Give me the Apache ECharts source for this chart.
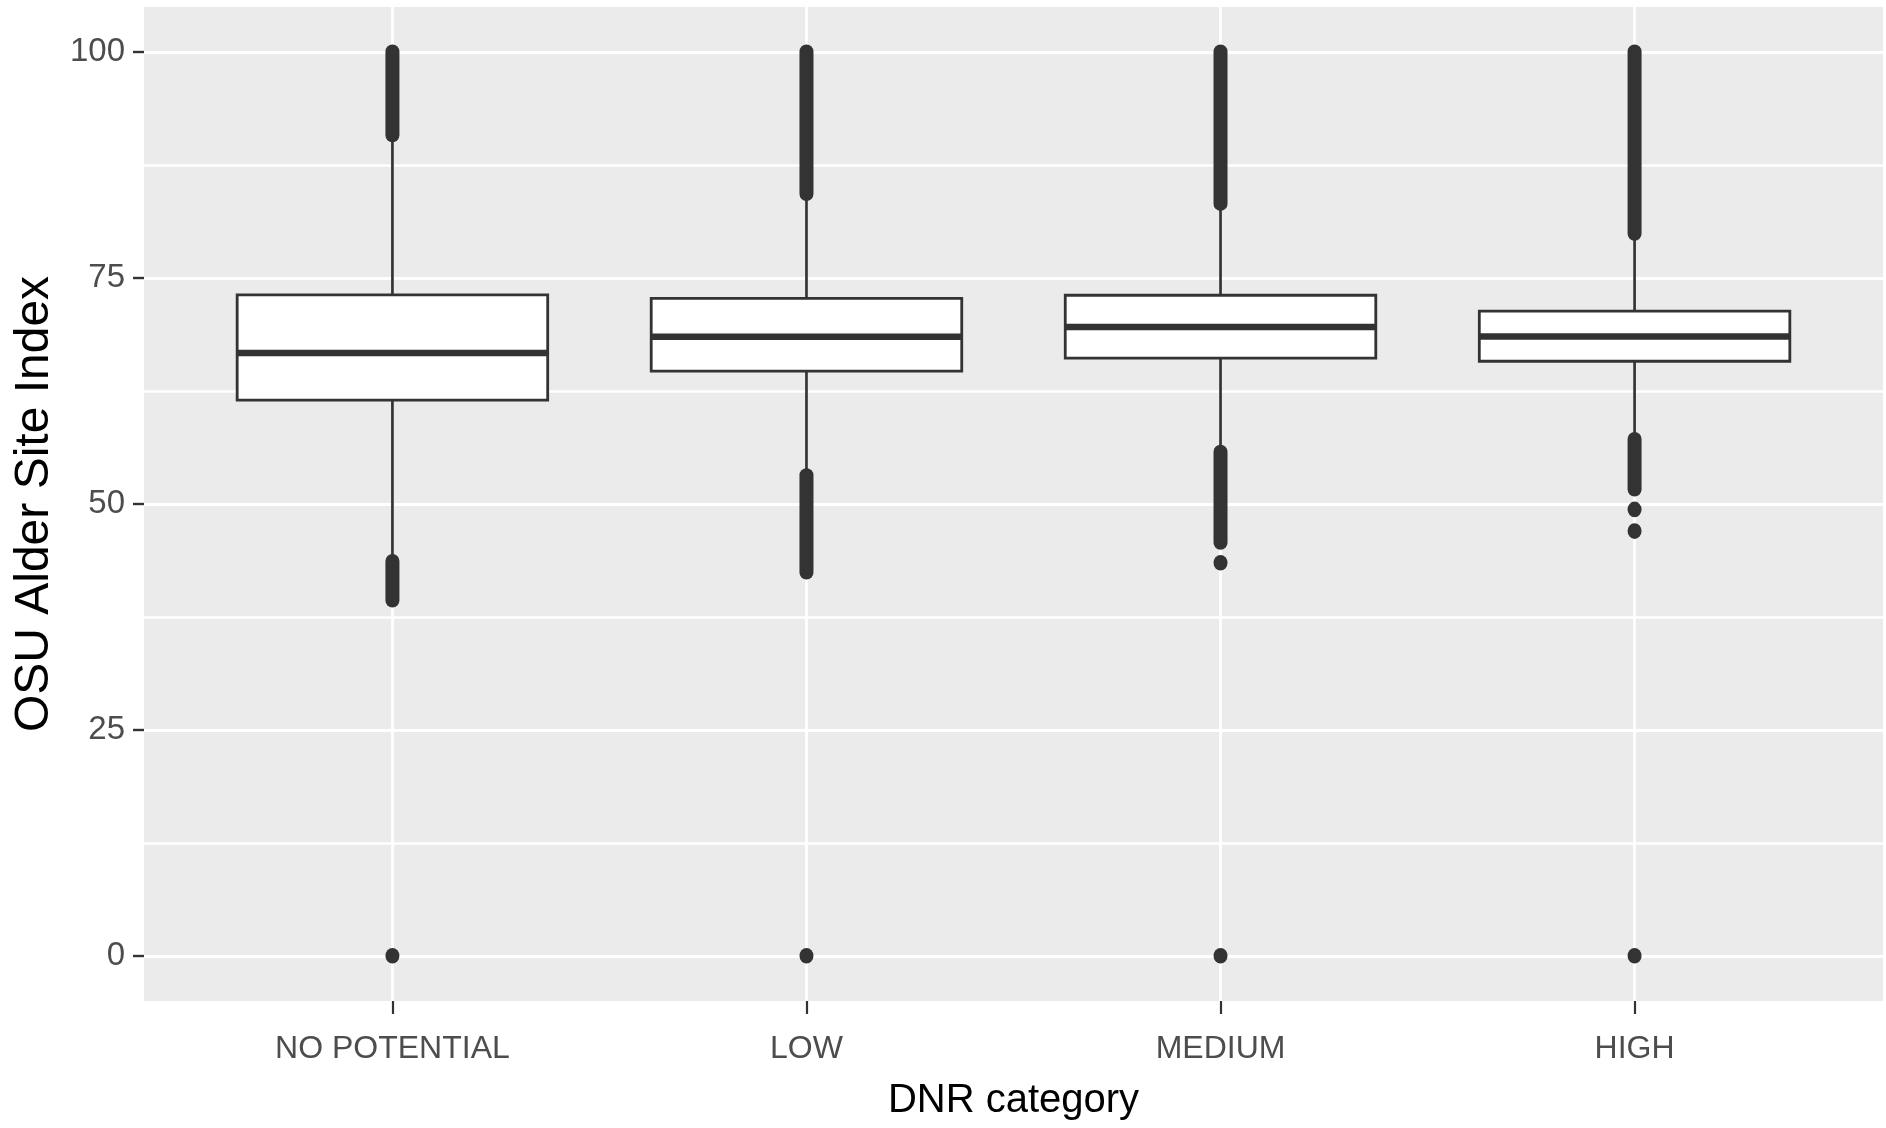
<!DOCTYPE html>
<html>
<head>
<meta charset="utf-8">
<script src="https://cdn.jsdelivr.net/npm/echarts@6/dist/echarts.min.js"></script>
<style>
  html, body { margin: 0; padding: 0; background: #fff; }
  #chart { width: 1886px; height: 1128px; }
</style>
</head>
<body>
<div id="chart"></div>
<script>
// categories on the x axis
const categories = ["NO POTENTIAL", "LOW", "MEDIUM", "HIGH"];

// box statistics
const whiskerLow = [44.2, 53.6, 56.0, 57.6];
const q1 = [61.5, 64.7, 66.15, 65.8];
const median = [66.7, 68.5, 69.6, 68.55];
const q3 = [73.15, 72.75, 73.1, 71.35];
const whiskerHigh = [90.6, 84.2, 83.2, 79.8];

// dense runs of outliers (they merge into one solid bar)
const upperRunFrom = [90.9, 84.4, 83.3, 80.0];
const upperRunTo = [100, 100, 100, 100];
const lowerRunFrom = [39.4, 42.5, 45.8, 51.7];
const lowerRunTo = [43.6, 53.1, 55.7, 57.1];

// single outliers
const extraOutliers = [[0], [0], [43.5, 0], [49.4, 47.0, 0]];

// tick labels
const yTicks = [0, 25, 50, 75, 100];
const yMinorTicks = [12.5, 37.5, 62.5, 87.5];
const xTicks = [1, 2, 3, 4];

const INK = "#333333";
const sans = "'Liberation Sans', Arial, sans-serif";

const boxData = categories.map((c, i) => [i + 1, whiskerLow[i], q1[i], median[i], q3[i], whiskerHigh[i]]);
const runData = [];
categories.forEach((c, i) => {
  runData.push([i + 1, upperRunFrom[i], upperRunTo[i]]);
  runData.push([i + 1, lowerRunFrom[i], lowerRunTo[i]]);
});
const pointData = [];
extraOutliers.forEach((vals, i) => vals.forEach(v => pointData.push([i + 1, v])));

const chart = echarts.init(document.getElementById("chart"));

const option = {
  animation: false,
  backgroundColor: "#ffffff",
  grid: {
    left: 144,
    right: 3,
    top: 7,
    bottom: 127,
    show: true,
    backgroundColor: "#EBEBEB",
    borderWidth: 0,
    outerBoundsMode: "none"
  },
  xAxis: {
    type: "value",
    min: 0.4,
    max: 4.6,
    name: "DNR category",
    nameLocation: "middle",
    nameGap: 80,
    nameTextStyle: { fontFamily: sans, fontSize: 40, color: "#000" },
    axisLine: { show: false, onZero: false },
    axisTick: { show: true, length: 13, customValues: xTicks, lineStyle: { color: INK, width: 2.2 } },
    axisLabel: {
      customValues: xTicks,
      margin: 32,
      fontFamily: sans,
      fontSize: 32,
      color: "#4D4D4D",
      formatter: v => categories[Math.round(v) - 1]
    },
    splitLine: { show: true, lineStyle: { color: "#ffffff", width: 2.8 } }
  },
  yAxis: [
    {
      type: "value",
      min: -5,
      max: 105,
      name: "OSU Alder Site Index",
      nameLocation: "middle",
      nameGap: 58,
      nameRotate: 90,
      nameTextStyle: { fontFamily: sans, fontSize: 48, color: "#000" },
      axisLine: { show: false, onZero: false },
      axisTick: { show: true, length: 11, customValues: yTicks, lineStyle: { color: INK, width: 2.4 } },
      axisLabel: {
        customValues: yTicks,
        margin: 19,
        fontFamily: sans,
        fontSize: 33,
        color: "#4D4D4D"
      },
      splitLine: { show: true, lineStyle: { color: "#ffffff", width: 3.2 } }
    },
    {
      type: "value",
      min: -5,
      max: 105,
      position: "left",
      axisLine: { show: false, onZero: false },
      axisTick: { show: false, customValues: yMinorTicks },
      axisLabel: { show: false, customValues: yMinorTicks },
      splitLine: { show: true, lineStyle: { color: "#ffffff", width: 2.6 } }
    }
  ],
  series: [
    {
      type: "custom",
      name: "box",
      data: boxData,
      encode: { x: 0, y: [1, 2, 3, 4, 5] },
      z: 3,
      renderItem: function (params, api) {
        const x = api.value(0);
        const half = api.size([0.75, 0])[0] / 2;
        const pLow = api.coord([x, api.value(1)]);
        const pQ1 = api.coord([x, api.value(2)]);
        const pMed = api.coord([x, api.value(3)]);
        const pQ3 = api.coord([x, api.value(4)]);
        const pHigh = api.coord([x, api.value(5)]);
        const cx = pMed[0];
        return {
          type: "group",
          children: [
            { type: "line", shape: { x1: cx, y1: pHigh[1], x2: cx, y2: pQ3[1] }, style: { stroke: INK, lineWidth: 2.7 } },
            { type: "line", shape: { x1: cx, y1: pQ1[1], x2: cx, y2: pLow[1] }, style: { stroke: INK, lineWidth: 2.7 } },
            {
              type: "rect",
              shape: { x: cx - half, y: pQ3[1], width: half * 2, height: pQ1[1] - pQ3[1] },
              style: { fill: "#ffffff", stroke: INK, lineWidth: 2.8 }
            },
            { type: "line", shape: { x1: cx - half, y1: pMed[1], x2: cx + half, y2: pMed[1] }, style: { stroke: INK, lineWidth: 6.5 } }
          ]
        };
      }
    },
    {
      type: "custom",
      name: "outlier runs",
      data: runData,
      encode: { x: 0, y: [1, 2] },
      z: 4,
      renderItem: function (params, api) {
        const x = api.value(0);
        const pLo = api.coord([x, api.value(1)]);
        const pHi = api.coord([x, api.value(2)]);
        const top = pHi[1] - 7.8;
        const bottom = pLo[1] + 7.8;
        return {
          type: "rect",
          shape: { x: pLo[0] - 7, y: top, width: 14, height: bottom - top, r: 7 },
          style: { fill: INK }
        };
      }
    },
    {
      type: "scatter",
      name: "outliers",
      data: pointData,
      symbol: "circle",
      symbolSize: [14, 15.6],
      itemStyle: { color: INK, opacity: 1 },
      z: 5
    }
  ]
};

chart.setOption(option);
window.addEventListener("resize", () => chart.resize());
</script>
</body>
</html>
